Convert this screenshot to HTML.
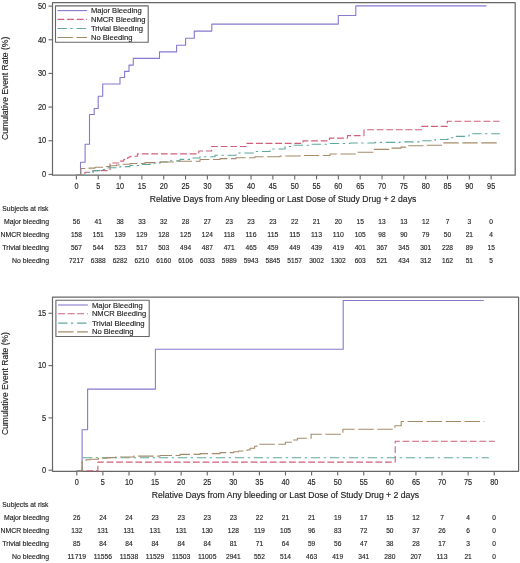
<!DOCTYPE html>
<html><head><meta charset="utf-8"><title>Cumulative Event Rate</title>
<style>html,body{margin:0;padding:0;background:#fff;width:520px;height:563px;overflow:hidden}svg{display:block;will-change:transform;font-family:"Liberation Sans",sans-serif}</style>
</head><body>
<svg width="520" height="563" viewBox="0 0 520 563" font-family='"Liberation Sans", sans-serif' fill="#1e1e1e" stroke-linejoin="round">
<style>text{stroke:#1e1e1e;stroke-width:0.15px}</style>
<rect width="520" height="563" fill="#ffffff"/>
<path d="M52.5,2.7 H515.2 V175.2 H52.5 Z" fill="none" stroke="#666666" stroke-width="1.2"/>
<line x1="48.5" y1="174.4" x2="52.5" y2="174.4" stroke="#666666" stroke-width="1.1"/>
<text x="46.2" y="177.15" font-size="8.4" text-anchor="end" textLength="4.15" lengthAdjust="spacingAndGlyphs">0</text>
<line x1="48.5" y1="140.74" x2="52.5" y2="140.74" stroke="#666666" stroke-width="1.1"/>
<text x="46.2" y="143.49" font-size="8.4" text-anchor="end" textLength="8.3" lengthAdjust="spacingAndGlyphs">10</text>
<line x1="48.5" y1="107.08" x2="52.5" y2="107.08" stroke="#666666" stroke-width="1.1"/>
<text x="46.2" y="109.83" font-size="8.4" text-anchor="end" textLength="8.3" lengthAdjust="spacingAndGlyphs">20</text>
<line x1="48.5" y1="73.42" x2="52.5" y2="73.42" stroke="#666666" stroke-width="1.1"/>
<text x="46.2" y="76.17" font-size="8.4" text-anchor="end" textLength="8.3" lengthAdjust="spacingAndGlyphs">30</text>
<line x1="48.5" y1="39.76" x2="52.5" y2="39.76" stroke="#666666" stroke-width="1.1"/>
<text x="46.2" y="42.51" font-size="8.4" text-anchor="end" textLength="8.3" lengthAdjust="spacingAndGlyphs">40</text>
<line x1="48.5" y1="6.1" x2="52.5" y2="6.1" stroke="#666666" stroke-width="1.1"/>
<text x="46.2" y="8.85" font-size="8.4" text-anchor="end" textLength="8.3" lengthAdjust="spacingAndGlyphs">50</text>
<line x1="76.4" y1="175.2" x2="76.4" y2="179.39999999999998" stroke="#666666" stroke-width="1.1"/>
<text x="76.4" y="188.8" font-size="8.3" text-anchor="middle" textLength="4.05" lengthAdjust="spacingAndGlyphs">0</text>
<line x1="98.23" y1="175.2" x2="98.23" y2="179.39999999999998" stroke="#666666" stroke-width="1.1"/>
<text x="98.23" y="188.8" font-size="8.3" text-anchor="middle" textLength="4.05" lengthAdjust="spacingAndGlyphs">5</text>
<line x1="120.06" y1="175.2" x2="120.06" y2="179.39999999999998" stroke="#666666" stroke-width="1.1"/>
<text x="120.06" y="188.8" font-size="8.3" text-anchor="middle" textLength="8.1" lengthAdjust="spacingAndGlyphs">10</text>
<line x1="141.89" y1="175.2" x2="141.89" y2="179.39999999999998" stroke="#666666" stroke-width="1.1"/>
<text x="141.89" y="188.8" font-size="8.3" text-anchor="middle" textLength="8.1" lengthAdjust="spacingAndGlyphs">15</text>
<line x1="163.72" y1="175.2" x2="163.72" y2="179.39999999999998" stroke="#666666" stroke-width="1.1"/>
<text x="163.72" y="188.8" font-size="8.3" text-anchor="middle" textLength="8.1" lengthAdjust="spacingAndGlyphs">20</text>
<line x1="185.55" y1="175.2" x2="185.55" y2="179.39999999999998" stroke="#666666" stroke-width="1.1"/>
<text x="185.55" y="188.8" font-size="8.3" text-anchor="middle" textLength="8.1" lengthAdjust="spacingAndGlyphs">25</text>
<line x1="207.38" y1="175.2" x2="207.38" y2="179.39999999999998" stroke="#666666" stroke-width="1.1"/>
<text x="207.38" y="188.8" font-size="8.3" text-anchor="middle" textLength="8.1" lengthAdjust="spacingAndGlyphs">30</text>
<line x1="229.21" y1="175.2" x2="229.21" y2="179.39999999999998" stroke="#666666" stroke-width="1.1"/>
<text x="229.21" y="188.8" font-size="8.3" text-anchor="middle" textLength="8.1" lengthAdjust="spacingAndGlyphs">35</text>
<line x1="251.04" y1="175.2" x2="251.04" y2="179.39999999999998" stroke="#666666" stroke-width="1.1"/>
<text x="251.04" y="188.8" font-size="8.3" text-anchor="middle" textLength="8.1" lengthAdjust="spacingAndGlyphs">40</text>
<line x1="272.87" y1="175.2" x2="272.87" y2="179.39999999999998" stroke="#666666" stroke-width="1.1"/>
<text x="272.87" y="188.8" font-size="8.3" text-anchor="middle" textLength="8.1" lengthAdjust="spacingAndGlyphs">45</text>
<line x1="294.7" y1="175.2" x2="294.7" y2="179.39999999999998" stroke="#666666" stroke-width="1.1"/>
<text x="294.7" y="188.8" font-size="8.3" text-anchor="middle" textLength="8.1" lengthAdjust="spacingAndGlyphs">50</text>
<line x1="316.53" y1="175.2" x2="316.53" y2="179.39999999999998" stroke="#666666" stroke-width="1.1"/>
<text x="316.53" y="188.8" font-size="8.3" text-anchor="middle" textLength="8.1" lengthAdjust="spacingAndGlyphs">55</text>
<line x1="338.36" y1="175.2" x2="338.36" y2="179.39999999999998" stroke="#666666" stroke-width="1.1"/>
<text x="338.36" y="188.8" font-size="8.3" text-anchor="middle" textLength="8.1" lengthAdjust="spacingAndGlyphs">60</text>
<line x1="360.19" y1="175.2" x2="360.19" y2="179.39999999999998" stroke="#666666" stroke-width="1.1"/>
<text x="360.19" y="188.8" font-size="8.3" text-anchor="middle" textLength="8.1" lengthAdjust="spacingAndGlyphs">65</text>
<line x1="382.02" y1="175.2" x2="382.02" y2="179.39999999999998" stroke="#666666" stroke-width="1.1"/>
<text x="382.02" y="188.8" font-size="8.3" text-anchor="middle" textLength="8.1" lengthAdjust="spacingAndGlyphs">70</text>
<line x1="403.85" y1="175.2" x2="403.85" y2="179.39999999999998" stroke="#666666" stroke-width="1.1"/>
<text x="403.85" y="188.8" font-size="8.3" text-anchor="middle" textLength="8.1" lengthAdjust="spacingAndGlyphs">75</text>
<line x1="425.68" y1="175.2" x2="425.68" y2="179.39999999999998" stroke="#666666" stroke-width="1.1"/>
<text x="425.68" y="188.8" font-size="8.3" text-anchor="middle" textLength="8.1" lengthAdjust="spacingAndGlyphs">80</text>
<line x1="447.51" y1="175.2" x2="447.51" y2="179.39999999999998" stroke="#666666" stroke-width="1.1"/>
<text x="447.51" y="188.8" font-size="8.3" text-anchor="middle" textLength="8.1" lengthAdjust="spacingAndGlyphs">85</text>
<line x1="469.34" y1="175.2" x2="469.34" y2="179.39999999999998" stroke="#666666" stroke-width="1.1"/>
<text x="469.34" y="188.8" font-size="8.3" text-anchor="middle" textLength="8.1" lengthAdjust="spacingAndGlyphs">90</text>
<line x1="491.17" y1="175.2" x2="491.17" y2="179.39999999999998" stroke="#666666" stroke-width="1.1"/>
<text x="491.17" y="188.8" font-size="8.3" text-anchor="middle" textLength="8.1" lengthAdjust="spacingAndGlyphs">95</text>
<text x="0" y="0" font-size="8.3" text-anchor="middle" textLength="103.2" lengthAdjust="spacingAndGlyphs" transform="translate(7.8,88.3) rotate(-90)">Cumulative Event Rate (%)</text>
<text x="149.7" y="202.3" font-size="8.3" text-anchor="start" textLength="266.6" lengthAdjust="spacingAndGlyphs">Relative Days from Any bleeding or Last Dose of Study Drug + 2 days</text>
<path d="M76.4,175 H80.5 V162.2 H85.1 V144.2 H89.5 V114.5 H94.2 V108.5 H98.2 V96.3 H102.7 V84 H120 V77.5 H124.6 V71.4 H129 V65.1 H133.3 V58.4 H159.5 V51.9 H176.6 V45.3 H185.6 V38.3 H194.3 V31.1 H211.8 V24.1 H338.3 V15.5 H355.8 V5.9 H486.5 V5.9" fill="none" stroke="#847ad0" stroke-width="1.1"/>
<path d="M76.4,175 H84.9 V172.3 H93 V170.6 H110 V163 H119.8 V161.1 H123.8 V159.4 H126 V158.4 H128 V157.3 H130 V156.3 H137.4 V153.9 H198.8 V151 H211.6 V146.5 H246.1 V143.4 H303 V140.9 H329.5 V138.1 H347.5 V135.6 H364 V129.7 H421.5 V126.4 H447.3 V121.3 H499.6 V121.3" fill="none" stroke="#d0607a" stroke-width="1.1" stroke-dasharray="6.8 2.8"/>
<path d="M76.4,175 H85.7 V172.5 H93 V170.6 H100 V169.5 H108 V167.7 H120 V166.6 H130 V165.5 H140 V164.5 H150 V163.2 H160 V162 H170 V160.8 H180 V159.4 H190 V158 H200 V156.8 H215 V155.2 H236 V153 H255 V151.5 H270 V149 H285 V146.5 H292 V145.3 H310 V144.3 H330 V143.5 H350 V143 H375 V142.4 H400 V141.9 H420 V140.8 H435 V139.5 H448 V137.7 H455 V136.4 H464.5 V136 H469 V133.8 H499.9 V133.8" fill="none" stroke="#5fa8a0" stroke-width="1.1" stroke-dasharray="9.4 3.5 2.3 3.8"/>
<path d="M76.4,175 H80.9 V168.5 H89 V168.1 H95 V167.3 H102.6 V166.5 H110 V165.8 H116.5 V165 H120 V164.2 H130 V163.5 H145 V162.6 H160 V162 H175 V161.3 H200 V159.5 H220 V158.6 H236 V157.8 H255 V156.8 H280 V156 H300 V155.5 H330 V154 H355.8 V152.3 H373 V149.4 H390.4 V148.1 H401 V147.1 H405.8 V145.8 H425 V145.2 H442.5 V142.9 H499.6 V142.9" fill="none" stroke="#a48a68" stroke-width="1.1" stroke-dasharray="15.4 3.6"/>
<rect x="55.5" y="5.9" width="92.69999999999999" height="36.4" fill="white" stroke="#666666" stroke-width="1.1"/>
<line x1="57.5" y1="10.6" x2="87.1" y2="10.6" stroke="#847ad0" stroke-width="1.1"/>
<text x="90.9" y="13.149999999999999" font-size="7.9" text-anchor="start" textLength="50.8" lengthAdjust="spacingAndGlyphs">Major Bleeding</text>
<line x1="57.5" y1="19.4" x2="87.1" y2="19.4" stroke="#d0607a" stroke-width="1.1" stroke-dasharray="6.8 2.8"/>
<text x="90.9" y="21.95" font-size="7.9" text-anchor="start" textLength="54.6" lengthAdjust="spacingAndGlyphs">NMCR Bleeding</text>
<line x1="57.5" y1="28.5" x2="87.1" y2="28.5" stroke="#5fa8a0" stroke-width="1.1" stroke-dasharray="9.4 3.5 2.3 3.8"/>
<text x="90.9" y="31.05" font-size="7.9" text-anchor="start" textLength="52.0" lengthAdjust="spacingAndGlyphs">Trivial Bleeding</text>
<line x1="57.5" y1="37.5" x2="87.1" y2="37.5" stroke="#a48a68" stroke-width="1.1" stroke-dasharray="15.4 3.6"/>
<text x="90.9" y="40.05" font-size="7.9" text-anchor="start" textLength="41.6" lengthAdjust="spacingAndGlyphs">No Bleeding</text>
<text x="2.3" y="210.7" font-size="7.3" text-anchor="start" textLength="46.2" lengthAdjust="spacingAndGlyphs">Subjects at risk</text>
<text x="4.0" y="223.9" font-size="7.3" text-anchor="start" textLength="45.0" lengthAdjust="spacingAndGlyphs">Major bleeding</text>
<text x="0.6" y="236.9" font-size="7.3" text-anchor="start" textLength="48.4" lengthAdjust="spacingAndGlyphs">NMCR bleeding</text>
<text x="2.3" y="249.7" font-size="7.3" text-anchor="start" textLength="46.7" lengthAdjust="spacingAndGlyphs">Trivial bleeding</text>
<text x="12.1" y="262.6" font-size="7.3" text-anchor="start" textLength="36.9" lengthAdjust="spacingAndGlyphs">No bleeding</text>
<text x="76.4" y="223.9" font-size="7.7" text-anchor="middle" textLength="7.36" lengthAdjust="spacingAndGlyphs">56</text>
<text x="98.23" y="223.9" font-size="7.7" text-anchor="middle" textLength="7.36" lengthAdjust="spacingAndGlyphs">41</text>
<text x="120.06" y="223.9" font-size="7.7" text-anchor="middle" textLength="7.36" lengthAdjust="spacingAndGlyphs">38</text>
<text x="141.89" y="223.9" font-size="7.7" text-anchor="middle" textLength="7.36" lengthAdjust="spacingAndGlyphs">33</text>
<text x="163.72" y="223.9" font-size="7.7" text-anchor="middle" textLength="7.36" lengthAdjust="spacingAndGlyphs">32</text>
<text x="185.55" y="223.9" font-size="7.7" text-anchor="middle" textLength="7.36" lengthAdjust="spacingAndGlyphs">28</text>
<text x="207.38" y="223.9" font-size="7.7" text-anchor="middle" textLength="7.36" lengthAdjust="spacingAndGlyphs">27</text>
<text x="229.21" y="223.9" font-size="7.7" text-anchor="middle" textLength="7.36" lengthAdjust="spacingAndGlyphs">23</text>
<text x="251.04" y="223.9" font-size="7.7" text-anchor="middle" textLength="7.36" lengthAdjust="spacingAndGlyphs">23</text>
<text x="272.87" y="223.9" font-size="7.7" text-anchor="middle" textLength="7.36" lengthAdjust="spacingAndGlyphs">23</text>
<text x="294.7" y="223.9" font-size="7.7" text-anchor="middle" textLength="7.36" lengthAdjust="spacingAndGlyphs">22</text>
<text x="316.53" y="223.9" font-size="7.7" text-anchor="middle" textLength="7.36" lengthAdjust="spacingAndGlyphs">21</text>
<text x="338.36" y="223.9" font-size="7.7" text-anchor="middle" textLength="7.36" lengthAdjust="spacingAndGlyphs">20</text>
<text x="360.19" y="223.9" font-size="7.7" text-anchor="middle" textLength="7.36" lengthAdjust="spacingAndGlyphs">15</text>
<text x="382.02" y="223.9" font-size="7.7" text-anchor="middle" textLength="7.36" lengthAdjust="spacingAndGlyphs">13</text>
<text x="403.85" y="223.9" font-size="7.7" text-anchor="middle" textLength="7.36" lengthAdjust="spacingAndGlyphs">13</text>
<text x="425.68" y="223.9" font-size="7.7" text-anchor="middle" textLength="7.36" lengthAdjust="spacingAndGlyphs">12</text>
<text x="447.51" y="223.9" font-size="7.7" text-anchor="middle" textLength="3.68" lengthAdjust="spacingAndGlyphs">7</text>
<text x="469.34" y="223.9" font-size="7.7" text-anchor="middle" textLength="3.68" lengthAdjust="spacingAndGlyphs">3</text>
<text x="491.17" y="223.9" font-size="7.7" text-anchor="middle" textLength="3.68" lengthAdjust="spacingAndGlyphs">0</text>
<text x="76.4" y="236.9" font-size="7.7" text-anchor="middle" textLength="11.04" lengthAdjust="spacingAndGlyphs">158</text>
<text x="98.23" y="236.9" font-size="7.7" text-anchor="middle" textLength="11.04" lengthAdjust="spacingAndGlyphs">151</text>
<text x="120.06" y="236.9" font-size="7.7" text-anchor="middle" textLength="11.04" lengthAdjust="spacingAndGlyphs">139</text>
<text x="141.89" y="236.9" font-size="7.7" text-anchor="middle" textLength="11.04" lengthAdjust="spacingAndGlyphs">129</text>
<text x="163.72" y="236.9" font-size="7.7" text-anchor="middle" textLength="11.04" lengthAdjust="spacingAndGlyphs">128</text>
<text x="185.55" y="236.9" font-size="7.7" text-anchor="middle" textLength="11.04" lengthAdjust="spacingAndGlyphs">125</text>
<text x="207.38" y="236.9" font-size="7.7" text-anchor="middle" textLength="11.04" lengthAdjust="spacingAndGlyphs">124</text>
<text x="229.21" y="236.9" font-size="7.7" text-anchor="middle" textLength="11.04" lengthAdjust="spacingAndGlyphs">118</text>
<text x="251.04" y="236.9" font-size="7.7" text-anchor="middle" textLength="11.04" lengthAdjust="spacingAndGlyphs">116</text>
<text x="272.87" y="236.9" font-size="7.7" text-anchor="middle" textLength="11.04" lengthAdjust="spacingAndGlyphs">115</text>
<text x="294.7" y="236.9" font-size="7.7" text-anchor="middle" textLength="11.04" lengthAdjust="spacingAndGlyphs">115</text>
<text x="316.53" y="236.9" font-size="7.7" text-anchor="middle" textLength="11.04" lengthAdjust="spacingAndGlyphs">113</text>
<text x="338.36" y="236.9" font-size="7.7" text-anchor="middle" textLength="11.04" lengthAdjust="spacingAndGlyphs">110</text>
<text x="360.19" y="236.9" font-size="7.7" text-anchor="middle" textLength="11.04" lengthAdjust="spacingAndGlyphs">105</text>
<text x="382.02" y="236.9" font-size="7.7" text-anchor="middle" textLength="7.36" lengthAdjust="spacingAndGlyphs">98</text>
<text x="403.85" y="236.9" font-size="7.7" text-anchor="middle" textLength="7.36" lengthAdjust="spacingAndGlyphs">90</text>
<text x="425.68" y="236.9" font-size="7.7" text-anchor="middle" textLength="7.36" lengthAdjust="spacingAndGlyphs">79</text>
<text x="447.51" y="236.9" font-size="7.7" text-anchor="middle" textLength="7.36" lengthAdjust="spacingAndGlyphs">50</text>
<text x="469.34" y="236.9" font-size="7.7" text-anchor="middle" textLength="7.36" lengthAdjust="spacingAndGlyphs">21</text>
<text x="491.17" y="236.9" font-size="7.7" text-anchor="middle" textLength="3.68" lengthAdjust="spacingAndGlyphs">4</text>
<text x="76.4" y="249.7" font-size="7.7" text-anchor="middle" textLength="11.04" lengthAdjust="spacingAndGlyphs">567</text>
<text x="98.23" y="249.7" font-size="7.7" text-anchor="middle" textLength="11.04" lengthAdjust="spacingAndGlyphs">544</text>
<text x="120.06" y="249.7" font-size="7.7" text-anchor="middle" textLength="11.04" lengthAdjust="spacingAndGlyphs">523</text>
<text x="141.89" y="249.7" font-size="7.7" text-anchor="middle" textLength="11.04" lengthAdjust="spacingAndGlyphs">517</text>
<text x="163.72" y="249.7" font-size="7.7" text-anchor="middle" textLength="11.04" lengthAdjust="spacingAndGlyphs">503</text>
<text x="185.55" y="249.7" font-size="7.7" text-anchor="middle" textLength="11.04" lengthAdjust="spacingAndGlyphs">494</text>
<text x="207.38" y="249.7" font-size="7.7" text-anchor="middle" textLength="11.04" lengthAdjust="spacingAndGlyphs">487</text>
<text x="229.21" y="249.7" font-size="7.7" text-anchor="middle" textLength="11.04" lengthAdjust="spacingAndGlyphs">471</text>
<text x="251.04" y="249.7" font-size="7.7" text-anchor="middle" textLength="11.04" lengthAdjust="spacingAndGlyphs">465</text>
<text x="272.87" y="249.7" font-size="7.7" text-anchor="middle" textLength="11.04" lengthAdjust="spacingAndGlyphs">459</text>
<text x="294.7" y="249.7" font-size="7.7" text-anchor="middle" textLength="11.04" lengthAdjust="spacingAndGlyphs">449</text>
<text x="316.53" y="249.7" font-size="7.7" text-anchor="middle" textLength="11.04" lengthAdjust="spacingAndGlyphs">439</text>
<text x="338.36" y="249.7" font-size="7.7" text-anchor="middle" textLength="11.04" lengthAdjust="spacingAndGlyphs">419</text>
<text x="360.19" y="249.7" font-size="7.7" text-anchor="middle" textLength="11.04" lengthAdjust="spacingAndGlyphs">401</text>
<text x="382.02" y="249.7" font-size="7.7" text-anchor="middle" textLength="11.04" lengthAdjust="spacingAndGlyphs">367</text>
<text x="403.85" y="249.7" font-size="7.7" text-anchor="middle" textLength="11.04" lengthAdjust="spacingAndGlyphs">345</text>
<text x="425.68" y="249.7" font-size="7.7" text-anchor="middle" textLength="11.04" lengthAdjust="spacingAndGlyphs">301</text>
<text x="447.51" y="249.7" font-size="7.7" text-anchor="middle" textLength="11.04" lengthAdjust="spacingAndGlyphs">228</text>
<text x="469.34" y="249.7" font-size="7.7" text-anchor="middle" textLength="7.36" lengthAdjust="spacingAndGlyphs">89</text>
<text x="491.17" y="249.7" font-size="7.7" text-anchor="middle" textLength="7.36" lengthAdjust="spacingAndGlyphs">15</text>
<text x="76.4" y="262.6" font-size="7.7" text-anchor="middle" textLength="14.72" lengthAdjust="spacingAndGlyphs">7217</text>
<text x="98.23" y="262.6" font-size="7.7" text-anchor="middle" textLength="14.72" lengthAdjust="spacingAndGlyphs">6388</text>
<text x="120.06" y="262.6" font-size="7.7" text-anchor="middle" textLength="14.72" lengthAdjust="spacingAndGlyphs">6282</text>
<text x="141.89" y="262.6" font-size="7.7" text-anchor="middle" textLength="14.72" lengthAdjust="spacingAndGlyphs">6210</text>
<text x="163.72" y="262.6" font-size="7.7" text-anchor="middle" textLength="14.72" lengthAdjust="spacingAndGlyphs">6160</text>
<text x="185.55" y="262.6" font-size="7.7" text-anchor="middle" textLength="14.72" lengthAdjust="spacingAndGlyphs">6106</text>
<text x="207.38" y="262.6" font-size="7.7" text-anchor="middle" textLength="14.72" lengthAdjust="spacingAndGlyphs">6033</text>
<text x="229.21" y="262.6" font-size="7.7" text-anchor="middle" textLength="14.72" lengthAdjust="spacingAndGlyphs">5989</text>
<text x="251.04" y="262.6" font-size="7.7" text-anchor="middle" textLength="14.72" lengthAdjust="spacingAndGlyphs">5943</text>
<text x="272.87" y="262.6" font-size="7.7" text-anchor="middle" textLength="14.72" lengthAdjust="spacingAndGlyphs">5845</text>
<text x="294.7" y="262.6" font-size="7.7" text-anchor="middle" textLength="14.72" lengthAdjust="spacingAndGlyphs">5157</text>
<text x="316.53" y="262.6" font-size="7.7" text-anchor="middle" textLength="14.72" lengthAdjust="spacingAndGlyphs">3002</text>
<text x="338.36" y="262.6" font-size="7.7" text-anchor="middle" textLength="14.72" lengthAdjust="spacingAndGlyphs">1302</text>
<text x="360.19" y="262.6" font-size="7.7" text-anchor="middle" textLength="11.04" lengthAdjust="spacingAndGlyphs">603</text>
<text x="382.02" y="262.6" font-size="7.7" text-anchor="middle" textLength="11.04" lengthAdjust="spacingAndGlyphs">521</text>
<text x="403.85" y="262.6" font-size="7.7" text-anchor="middle" textLength="11.04" lengthAdjust="spacingAndGlyphs">434</text>
<text x="425.68" y="262.6" font-size="7.7" text-anchor="middle" textLength="11.04" lengthAdjust="spacingAndGlyphs">312</text>
<text x="447.51" y="262.6" font-size="7.7" text-anchor="middle" textLength="11.04" lengthAdjust="spacingAndGlyphs">162</text>
<text x="469.34" y="262.6" font-size="7.7" text-anchor="middle" textLength="7.36" lengthAdjust="spacingAndGlyphs">51</text>
<text x="491.17" y="262.6" font-size="7.7" text-anchor="middle" textLength="3.68" lengthAdjust="spacingAndGlyphs">5</text>
<path d="M52.5,297.1 H518.6 V471.3 H52.5 Z" fill="none" stroke="#666666" stroke-width="1.2"/>
<line x1="48.5" y1="470.2" x2="52.5" y2="470.2" stroke="#666666" stroke-width="1.1"/>
<text x="46.2" y="472.95" font-size="8.4" text-anchor="end" textLength="4.15" lengthAdjust="spacingAndGlyphs">0</text>
<line x1="48.5" y1="417.9" x2="52.5" y2="417.9" stroke="#666666" stroke-width="1.1"/>
<text x="46.2" y="420.65" font-size="8.4" text-anchor="end" textLength="4.15" lengthAdjust="spacingAndGlyphs">5</text>
<line x1="48.5" y1="365.6" x2="52.5" y2="365.6" stroke="#666666" stroke-width="1.1"/>
<text x="46.2" y="368.35" font-size="8.4" text-anchor="end" textLength="8.3" lengthAdjust="spacingAndGlyphs">10</text>
<line x1="48.5" y1="313.3" x2="52.5" y2="313.3" stroke="#666666" stroke-width="1.1"/>
<text x="46.2" y="316.05" font-size="8.4" text-anchor="end" textLength="8.3" lengthAdjust="spacingAndGlyphs">15</text>
<line x1="76.8" y1="471.3" x2="76.8" y2="475.5" stroke="#666666" stroke-width="1.1"/>
<text x="76.8" y="484.5" font-size="8.3" text-anchor="middle" textLength="4.05" lengthAdjust="spacingAndGlyphs">0</text>
<line x1="102.89" y1="471.3" x2="102.89" y2="475.5" stroke="#666666" stroke-width="1.1"/>
<text x="102.89" y="484.5" font-size="8.3" text-anchor="middle" textLength="4.05" lengthAdjust="spacingAndGlyphs">5</text>
<line x1="128.97" y1="471.3" x2="128.97" y2="475.5" stroke="#666666" stroke-width="1.1"/>
<text x="128.97" y="484.5" font-size="8.3" text-anchor="middle" textLength="8.1" lengthAdjust="spacingAndGlyphs">10</text>
<line x1="155.06" y1="471.3" x2="155.06" y2="475.5" stroke="#666666" stroke-width="1.1"/>
<text x="155.06" y="484.5" font-size="8.3" text-anchor="middle" textLength="8.1" lengthAdjust="spacingAndGlyphs">15</text>
<line x1="181.15" y1="471.3" x2="181.15" y2="475.5" stroke="#666666" stroke-width="1.1"/>
<text x="181.15" y="484.5" font-size="8.3" text-anchor="middle" textLength="8.1" lengthAdjust="spacingAndGlyphs">20</text>
<line x1="207.24" y1="471.3" x2="207.24" y2="475.5" stroke="#666666" stroke-width="1.1"/>
<text x="207.24" y="484.5" font-size="8.3" text-anchor="middle" textLength="8.1" lengthAdjust="spacingAndGlyphs">25</text>
<line x1="233.32" y1="471.3" x2="233.32" y2="475.5" stroke="#666666" stroke-width="1.1"/>
<text x="233.32" y="484.5" font-size="8.3" text-anchor="middle" textLength="8.1" lengthAdjust="spacingAndGlyphs">30</text>
<line x1="259.41" y1="471.3" x2="259.41" y2="475.5" stroke="#666666" stroke-width="1.1"/>
<text x="259.41" y="484.5" font-size="8.3" text-anchor="middle" textLength="8.1" lengthAdjust="spacingAndGlyphs">35</text>
<line x1="285.5" y1="471.3" x2="285.5" y2="475.5" stroke="#666666" stroke-width="1.1"/>
<text x="285.5" y="484.5" font-size="8.3" text-anchor="middle" textLength="8.1" lengthAdjust="spacingAndGlyphs">40</text>
<line x1="311.59" y1="471.3" x2="311.59" y2="475.5" stroke="#666666" stroke-width="1.1"/>
<text x="311.59" y="484.5" font-size="8.3" text-anchor="middle" textLength="8.1" lengthAdjust="spacingAndGlyphs">45</text>
<line x1="337.68" y1="471.3" x2="337.68" y2="475.5" stroke="#666666" stroke-width="1.1"/>
<text x="337.68" y="484.5" font-size="8.3" text-anchor="middle" textLength="8.1" lengthAdjust="spacingAndGlyphs">50</text>
<line x1="363.76" y1="471.3" x2="363.76" y2="475.5" stroke="#666666" stroke-width="1.1"/>
<text x="363.76" y="484.5" font-size="8.3" text-anchor="middle" textLength="8.1" lengthAdjust="spacingAndGlyphs">55</text>
<line x1="389.85" y1="471.3" x2="389.85" y2="475.5" stroke="#666666" stroke-width="1.1"/>
<text x="389.85" y="484.5" font-size="8.3" text-anchor="middle" textLength="8.1" lengthAdjust="spacingAndGlyphs">60</text>
<line x1="415.94" y1="471.3" x2="415.94" y2="475.5" stroke="#666666" stroke-width="1.1"/>
<text x="415.94" y="484.5" font-size="8.3" text-anchor="middle" textLength="8.1" lengthAdjust="spacingAndGlyphs">65</text>
<line x1="442.03" y1="471.3" x2="442.03" y2="475.5" stroke="#666666" stroke-width="1.1"/>
<text x="442.03" y="484.5" font-size="8.3" text-anchor="middle" textLength="8.1" lengthAdjust="spacingAndGlyphs">70</text>
<line x1="468.11" y1="471.3" x2="468.11" y2="475.5" stroke="#666666" stroke-width="1.1"/>
<text x="468.11" y="484.5" font-size="8.3" text-anchor="middle" textLength="8.1" lengthAdjust="spacingAndGlyphs">75</text>
<line x1="494.2" y1="471.3" x2="494.2" y2="475.5" stroke="#666666" stroke-width="1.1"/>
<text x="494.2" y="484.5" font-size="8.3" text-anchor="middle" textLength="8.1" lengthAdjust="spacingAndGlyphs">80</text>
<text x="0" y="0" font-size="8.3" text-anchor="middle" textLength="103.0" lengthAdjust="spacingAndGlyphs" transform="translate(7.8,383.6) rotate(-90)">Cumulative Event Rate (%)</text>
<text x="151.7" y="497.8" font-size="8.3" text-anchor="start" textLength="267.4" lengthAdjust="spacingAndGlyphs">Relative Days from Any bleeding or Last Dose of Study Drug + 2 days</text>
<path d="M76.8,470.7 H82.1 V429.8 H87.6 V389.1 H155.4 V349.3 H343.2 V300.5 H483.75 V300.5" fill="none" stroke="#847ad0" stroke-width="1.1"/>
<path d="M76.8,470.7 H97.9 V462.1 H395.2 V441.3 H494.7 V441.3" fill="none" stroke="#d0607a" stroke-width="1.1" stroke-dasharray="6.8 2.8"/>
<path d="M76.8,470.7 H82.2 V457.7 H488.9 V457.7" fill="none" stroke="#5fa8a0" stroke-width="1.1" stroke-dasharray="9.4 3.5 2.3 3.8"/>
<path d="M76.8,470.7 H82.25 V460.2 H86 V459.8 H90 V459.2 H98.5 V458.1 H107 V457.6 H115.4 V457 H133.8 V456.1 H160 V455.5 H180 V454.4 H200 V453.6 H220 V452.6 H233.8 V451.8 H238.5 V451 H247 V450 H250 V448.2 H254.6 V446.2 H257 V444.3 H285.4 V442.3 H293 V440 H297.4 V438.3 H311.1 V434.3 H342.9 V429.2 H394.9 V425.7 H401.2 V421.5 H484.3 V421.5" fill="none" stroke="#a48a68" stroke-width="1.1" stroke-dasharray="15.4 3.6"/>
<rect x="55.9" y="300.3" width="93.29999999999998" height="36.19999999999999" fill="white" stroke="#666666" stroke-width="1.1"/>
<line x1="58.1" y1="305.0" x2="87.9" y2="305.0" stroke="#847ad0" stroke-width="1.1"/>
<text x="91.9" y="307.55" font-size="7.9" text-anchor="start" textLength="50.9" lengthAdjust="spacingAndGlyphs">Major Bleeding</text>
<line x1="58.1" y1="313.8" x2="87.9" y2="313.8" stroke="#d0607a" stroke-width="1.1" stroke-dasharray="6.8 2.8"/>
<text x="91.9" y="316.35" font-size="7.9" text-anchor="start" textLength="54.3" lengthAdjust="spacingAndGlyphs">NMCR Bleeding</text>
<line x1="58.1" y1="323.1" x2="87.9" y2="323.1" stroke="#5fa8a0" stroke-width="1.1" stroke-dasharray="9.4 3.5 2.3 3.8"/>
<text x="91.9" y="325.65000000000003" font-size="7.9" text-anchor="start" textLength="52.7" lengthAdjust="spacingAndGlyphs">Trivial Bleeding</text>
<line x1="58.1" y1="331.9" x2="87.9" y2="331.9" stroke="#a48a68" stroke-width="1.1" stroke-dasharray="15.4 3.6"/>
<text x="91.9" y="334.45" font-size="7.9" text-anchor="start" textLength="41.6" lengthAdjust="spacingAndGlyphs">No Bleeding</text>
<text x="2.3" y="506.8" font-size="7.3" text-anchor="start" textLength="46.2" lengthAdjust="spacingAndGlyphs">Subjects at risk</text>
<text x="4.0" y="519.9" font-size="7.3" text-anchor="start" textLength="45.0" lengthAdjust="spacingAndGlyphs">Major bleeding</text>
<text x="0.6" y="532.9" font-size="7.3" text-anchor="start" textLength="48.4" lengthAdjust="spacingAndGlyphs">NMCR bleeding</text>
<text x="2.3" y="545.9" font-size="7.3" text-anchor="start" textLength="46.7" lengthAdjust="spacingAndGlyphs">Trivial bleeding</text>
<text x="12.1" y="558.8" font-size="7.3" text-anchor="start" textLength="36.9" lengthAdjust="spacingAndGlyphs">No bleeding</text>
<text x="76.8" y="519.9" font-size="7.7" text-anchor="middle" textLength="7.36" lengthAdjust="spacingAndGlyphs">26</text>
<text x="102.89" y="519.9" font-size="7.7" text-anchor="middle" textLength="7.36" lengthAdjust="spacingAndGlyphs">24</text>
<text x="128.97" y="519.9" font-size="7.7" text-anchor="middle" textLength="7.36" lengthAdjust="spacingAndGlyphs">24</text>
<text x="155.06" y="519.9" font-size="7.7" text-anchor="middle" textLength="7.36" lengthAdjust="spacingAndGlyphs">23</text>
<text x="181.15" y="519.9" font-size="7.7" text-anchor="middle" textLength="7.36" lengthAdjust="spacingAndGlyphs">23</text>
<text x="207.24" y="519.9" font-size="7.7" text-anchor="middle" textLength="7.36" lengthAdjust="spacingAndGlyphs">23</text>
<text x="233.32" y="519.9" font-size="7.7" text-anchor="middle" textLength="7.36" lengthAdjust="spacingAndGlyphs">23</text>
<text x="259.41" y="519.9" font-size="7.7" text-anchor="middle" textLength="7.36" lengthAdjust="spacingAndGlyphs">22</text>
<text x="285.5" y="519.9" font-size="7.7" text-anchor="middle" textLength="7.36" lengthAdjust="spacingAndGlyphs">21</text>
<text x="311.59" y="519.9" font-size="7.7" text-anchor="middle" textLength="7.36" lengthAdjust="spacingAndGlyphs">21</text>
<text x="337.68" y="519.9" font-size="7.7" text-anchor="middle" textLength="7.36" lengthAdjust="spacingAndGlyphs">19</text>
<text x="363.76" y="519.9" font-size="7.7" text-anchor="middle" textLength="7.36" lengthAdjust="spacingAndGlyphs">17</text>
<text x="389.85" y="519.9" font-size="7.7" text-anchor="middle" textLength="7.36" lengthAdjust="spacingAndGlyphs">15</text>
<text x="415.94" y="519.9" font-size="7.7" text-anchor="middle" textLength="7.36" lengthAdjust="spacingAndGlyphs">12</text>
<text x="442.03" y="519.9" font-size="7.7" text-anchor="middle" textLength="3.68" lengthAdjust="spacingAndGlyphs">7</text>
<text x="468.11" y="519.9" font-size="7.7" text-anchor="middle" textLength="3.68" lengthAdjust="spacingAndGlyphs">4</text>
<text x="494.2" y="519.9" font-size="7.7" text-anchor="middle" textLength="3.68" lengthAdjust="spacingAndGlyphs">0</text>
<text x="76.8" y="532.9" font-size="7.7" text-anchor="middle" textLength="11.04" lengthAdjust="spacingAndGlyphs">132</text>
<text x="102.89" y="532.9" font-size="7.7" text-anchor="middle" textLength="11.04" lengthAdjust="spacingAndGlyphs">131</text>
<text x="128.97" y="532.9" font-size="7.7" text-anchor="middle" textLength="11.04" lengthAdjust="spacingAndGlyphs">131</text>
<text x="155.06" y="532.9" font-size="7.7" text-anchor="middle" textLength="11.04" lengthAdjust="spacingAndGlyphs">131</text>
<text x="181.15" y="532.9" font-size="7.7" text-anchor="middle" textLength="11.04" lengthAdjust="spacingAndGlyphs">131</text>
<text x="207.24" y="532.9" font-size="7.7" text-anchor="middle" textLength="11.04" lengthAdjust="spacingAndGlyphs">130</text>
<text x="233.32" y="532.9" font-size="7.7" text-anchor="middle" textLength="11.04" lengthAdjust="spacingAndGlyphs">128</text>
<text x="259.41" y="532.9" font-size="7.7" text-anchor="middle" textLength="11.04" lengthAdjust="spacingAndGlyphs">119</text>
<text x="285.5" y="532.9" font-size="7.7" text-anchor="middle" textLength="11.04" lengthAdjust="spacingAndGlyphs">105</text>
<text x="311.59" y="532.9" font-size="7.7" text-anchor="middle" textLength="7.36" lengthAdjust="spacingAndGlyphs">96</text>
<text x="337.68" y="532.9" font-size="7.7" text-anchor="middle" textLength="7.36" lengthAdjust="spacingAndGlyphs">83</text>
<text x="363.76" y="532.9" font-size="7.7" text-anchor="middle" textLength="7.36" lengthAdjust="spacingAndGlyphs">72</text>
<text x="389.85" y="532.9" font-size="7.7" text-anchor="middle" textLength="7.36" lengthAdjust="spacingAndGlyphs">50</text>
<text x="415.94" y="532.9" font-size="7.7" text-anchor="middle" textLength="7.36" lengthAdjust="spacingAndGlyphs">37</text>
<text x="442.03" y="532.9" font-size="7.7" text-anchor="middle" textLength="7.36" lengthAdjust="spacingAndGlyphs">26</text>
<text x="468.11" y="532.9" font-size="7.7" text-anchor="middle" textLength="3.68" lengthAdjust="spacingAndGlyphs">6</text>
<text x="494.2" y="532.9" font-size="7.7" text-anchor="middle" textLength="3.68" lengthAdjust="spacingAndGlyphs">0</text>
<text x="76.8" y="545.9" font-size="7.7" text-anchor="middle" textLength="7.36" lengthAdjust="spacingAndGlyphs">85</text>
<text x="102.89" y="545.9" font-size="7.7" text-anchor="middle" textLength="7.36" lengthAdjust="spacingAndGlyphs">84</text>
<text x="128.97" y="545.9" font-size="7.7" text-anchor="middle" textLength="7.36" lengthAdjust="spacingAndGlyphs">84</text>
<text x="155.06" y="545.9" font-size="7.7" text-anchor="middle" textLength="7.36" lengthAdjust="spacingAndGlyphs">84</text>
<text x="181.15" y="545.9" font-size="7.7" text-anchor="middle" textLength="7.36" lengthAdjust="spacingAndGlyphs">84</text>
<text x="207.24" y="545.9" font-size="7.7" text-anchor="middle" textLength="7.36" lengthAdjust="spacingAndGlyphs">84</text>
<text x="233.32" y="545.9" font-size="7.7" text-anchor="middle" textLength="7.36" lengthAdjust="spacingAndGlyphs">81</text>
<text x="259.41" y="545.9" font-size="7.7" text-anchor="middle" textLength="7.36" lengthAdjust="spacingAndGlyphs">71</text>
<text x="285.5" y="545.9" font-size="7.7" text-anchor="middle" textLength="7.36" lengthAdjust="spacingAndGlyphs">64</text>
<text x="311.59" y="545.9" font-size="7.7" text-anchor="middle" textLength="7.36" lengthAdjust="spacingAndGlyphs">59</text>
<text x="337.68" y="545.9" font-size="7.7" text-anchor="middle" textLength="7.36" lengthAdjust="spacingAndGlyphs">56</text>
<text x="363.76" y="545.9" font-size="7.7" text-anchor="middle" textLength="7.36" lengthAdjust="spacingAndGlyphs">47</text>
<text x="389.85" y="545.9" font-size="7.7" text-anchor="middle" textLength="7.36" lengthAdjust="spacingAndGlyphs">38</text>
<text x="415.94" y="545.9" font-size="7.7" text-anchor="middle" textLength="7.36" lengthAdjust="spacingAndGlyphs">28</text>
<text x="442.03" y="545.9" font-size="7.7" text-anchor="middle" textLength="7.36" lengthAdjust="spacingAndGlyphs">17</text>
<text x="468.11" y="545.9" font-size="7.7" text-anchor="middle" textLength="3.68" lengthAdjust="spacingAndGlyphs">3</text>
<text x="494.2" y="545.9" font-size="7.7" text-anchor="middle" textLength="3.68" lengthAdjust="spacingAndGlyphs">0</text>
<text x="76.8" y="558.8" font-size="7.7" text-anchor="middle" textLength="18.4" lengthAdjust="spacingAndGlyphs">11719</text>
<text x="102.89" y="558.8" font-size="7.7" text-anchor="middle" textLength="18.4" lengthAdjust="spacingAndGlyphs">11556</text>
<text x="128.97" y="558.8" font-size="7.7" text-anchor="middle" textLength="18.4" lengthAdjust="spacingAndGlyphs">11538</text>
<text x="155.06" y="558.8" font-size="7.7" text-anchor="middle" textLength="18.4" lengthAdjust="spacingAndGlyphs">11529</text>
<text x="181.15" y="558.8" font-size="7.7" text-anchor="middle" textLength="18.4" lengthAdjust="spacingAndGlyphs">11503</text>
<text x="207.24" y="558.8" font-size="7.7" text-anchor="middle" textLength="18.4" lengthAdjust="spacingAndGlyphs">11005</text>
<text x="233.32" y="558.8" font-size="7.7" text-anchor="middle" textLength="14.72" lengthAdjust="spacingAndGlyphs">2941</text>
<text x="259.41" y="558.8" font-size="7.7" text-anchor="middle" textLength="11.04" lengthAdjust="spacingAndGlyphs">552</text>
<text x="285.5" y="558.8" font-size="7.7" text-anchor="middle" textLength="11.04" lengthAdjust="spacingAndGlyphs">514</text>
<text x="311.59" y="558.8" font-size="7.7" text-anchor="middle" textLength="11.04" lengthAdjust="spacingAndGlyphs">463</text>
<text x="337.68" y="558.8" font-size="7.7" text-anchor="middle" textLength="11.04" lengthAdjust="spacingAndGlyphs">419</text>
<text x="363.76" y="558.8" font-size="7.7" text-anchor="middle" textLength="11.04" lengthAdjust="spacingAndGlyphs">341</text>
<text x="389.85" y="558.8" font-size="7.7" text-anchor="middle" textLength="11.04" lengthAdjust="spacingAndGlyphs">280</text>
<text x="415.94" y="558.8" font-size="7.7" text-anchor="middle" textLength="11.04" lengthAdjust="spacingAndGlyphs">207</text>
<text x="442.03" y="558.8" font-size="7.7" text-anchor="middle" textLength="11.04" lengthAdjust="spacingAndGlyphs">113</text>
<text x="468.11" y="558.8" font-size="7.7" text-anchor="middle" textLength="7.36" lengthAdjust="spacingAndGlyphs">21</text>
<text x="494.2" y="558.8" font-size="7.7" text-anchor="middle" textLength="3.68" lengthAdjust="spacingAndGlyphs">0</text>
</svg>
</body></html>
